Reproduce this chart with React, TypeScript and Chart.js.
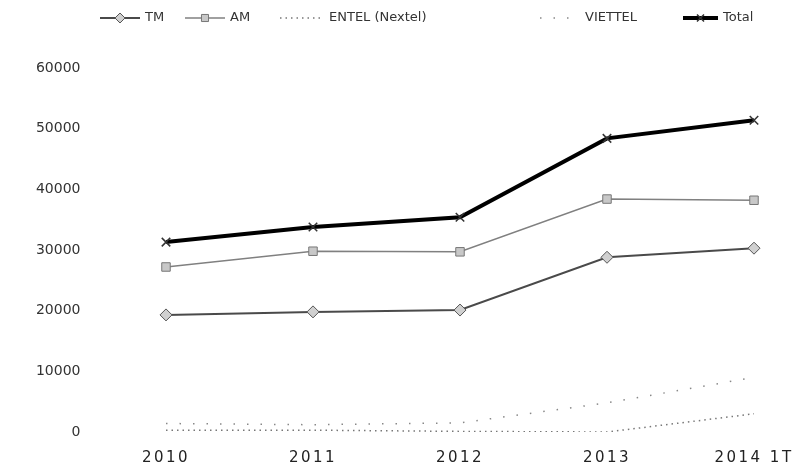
import React, { useEffect, useRef } from "react";
import { Chart, registerables } from "chart.js";
import { drawPoint } from "chart.js/helpers";

Chart.register(...registerables);

const categories = ["2010", "2011", "2012", "2013", "2014 1T"];
const tmValues = [19300, 19800, 20100, 28800, 30300];
const amValues = [27200, 29800, 29700, 38400, 38200];
const entelValues = [300, 300, 100, 0, 3000];
const viettelValues = [1400, 1200, 1500, 4800, 9000];
const totalValues = [31300, 33800, 35400, 48400, 51400];
const yTicks = [0, 10000, 20000, 30000, 40000, 50000, 60000];

const legendPos = [
  { x: 100, len: 40 },
  { x: 185, len: 40 },
  { x: 280, len: 44 },
  { x: 540, len: 40 },
  { x: 683, len: 35 },
];

const legendPlugin = {
  id: "customLegend",
  afterDraw(chart: any) {
    const ctx = chart.ctx;
    const y = 18;
    chart.data.datasets.forEach((ds: any, i: number) => {
      const p = legendPos[i];
      ctx.save();
      ctx.strokeStyle = ds.borderColor;
      ctx.lineWidth = ds.borderWidth;
      ctx.setLineDash(ds.borderDash || []);
      ctx.beginPath();
      ctx.moveTo(p.x, y);
      ctx.lineTo(p.x + p.len, y);
      ctx.stroke();
      ctx.setLineDash([]);
      if (ds.pointRadius > 0) {
        ctx.fillStyle = ds.pointBackgroundColor;
        ctx.strokeStyle = ds.pointBorderColor;
        ctx.lineWidth = ds.pointBorderWidth;
        drawPoint(ctx, { pointStyle: ds.pointStyle, radius: ds.pointRadius - 1, borderWidth: ds.pointBorderWidth, rotation: 0 }, p.x + p.len / 2, y);
      }
      ctx.fillStyle = "#333";
      ctx.font = "13px 'DejaVu Sans'";
      ctx.textBaseline = "middle";
      ctx.textAlign = "left";
      ctx.fillText(ds.label, p.x + p.len + 5, y);
      ctx.restore();
    });
  },
};

const spacingPlugin = {
  id: "xSpacing",
  beforeDraw(chart: any) {
    const s: any = chart.scales.x;
    if (s && !s._spaced) {
      const orig = s.drawLabels.bind(s);
      s.drawLabels = (area: any) => {
        const c: any = chart.ctx;
        c.save();
        c.letterSpacing = "2.5px";
        orig(area);
        c.restore();
      };
      s._spaced = true;
    }
  },
};

export default function App() {
  const ref = useRef<HTMLCanvasElement>(null);
  useEffect(() => {
    if (!ref.current) return;
    const chart = new Chart(ref.current, {
      type: "line",
      data: {
        labels: categories,
        datasets: [
          {
            label: "TM",
            data: tmValues,
            borderColor: "#4a4a4a",
            borderWidth: 2,
            pointStyle: "rectRot",
            pointRadius: 6,
            pointBackgroundColor: "#d0d0d0",
            pointBorderColor: "#555",
            pointBorderWidth: 1,
          },
          {
            label: "AM",
            data: amValues,
            borderColor: "#808080",
            borderWidth: 1.5,
            pointStyle: "rect",
            pointRadius: 6,
            pointBackgroundColor: "#c8c8c8",
            pointBorderColor: "#777",
            pointBorderWidth: 1,
          },
          {
            label: "ENTEL (Nextel)",
            data: entelValues,
            borderColor: "#777",
            borderWidth: 1.5,
            borderDash: [1.5, 4],
            pointRadius: 0,
            pointStyle: "circle",
            pointBackgroundColor: "#777",
            pointBorderColor: "#777",
            pointBorderWidth: 1,
          },
          {
            label: "VIETTEL",
            data: viettelValues,
            borderColor: "#888",
            borderWidth: 1.5,
            borderDash: [1.5, 12],
            pointRadius: 0,
            pointStyle: "circle",
            pointBackgroundColor: "#888",
            pointBorderColor: "#888",
            pointBorderWidth: 1,
          },
          {
            label: "Total",
            data: totalValues,
            borderColor: "#000",
            borderWidth: 4,
            pointStyle: "crossRot",
            pointRadius: 6,
            pointBackgroundColor: "#000",
            pointBorderColor: "#333",
            pointBorderWidth: 1.5,
          },
        ],
      },
      options: {
        responsive: false,
        animation: false,
        layout: { padding: { top: 68, left: 0, right: 12.5, bottom: 0 } },
        plugins: { legend: { display: false }, tooltip: { enabled: false } },
        scales: {
          x: {
            offset: true,
            grid: { display: false, drawTicks: false },
            border: { display: false },
            ticks: {
              color: "#222",
              font: { family: "'DejaVu Sans'", size: 15 },
              padding: 17,
              maxRotation: 0,
              autoSkip: false,
            },
            afterFit: (s: any) => {
              s.height = 39;
            },
          },
          y: {
            min: 0,
            max: 60000,
            afterBuildTicks: (s: any) => {
              s.ticks = yTicks.map((v) => ({ value: v }));
            },
            grid: { display: false, drawTicks: false },
            border: { display: false },
            ticks: {
              color: "#333",
              font: { family: "'DejaVu Sans'", size: 14 },
              padding: 12,
              callback: (v: any) => String(v),
            },
            afterFit: (s: any) => {
              s.width = 92.5;
            },
          },
        },
      },
      plugins: [legendPlugin, spacingPlugin],
    });
    return () => chart.destroy();
  }, []);
  return (
    <div style={{ position: "absolute", left: 0, top: 0, width: 796, height: 471, overflow: "hidden", background: "#fff" }}>
      <canvas ref={ref} width={840} height={471} />
    </div>
  );
}
